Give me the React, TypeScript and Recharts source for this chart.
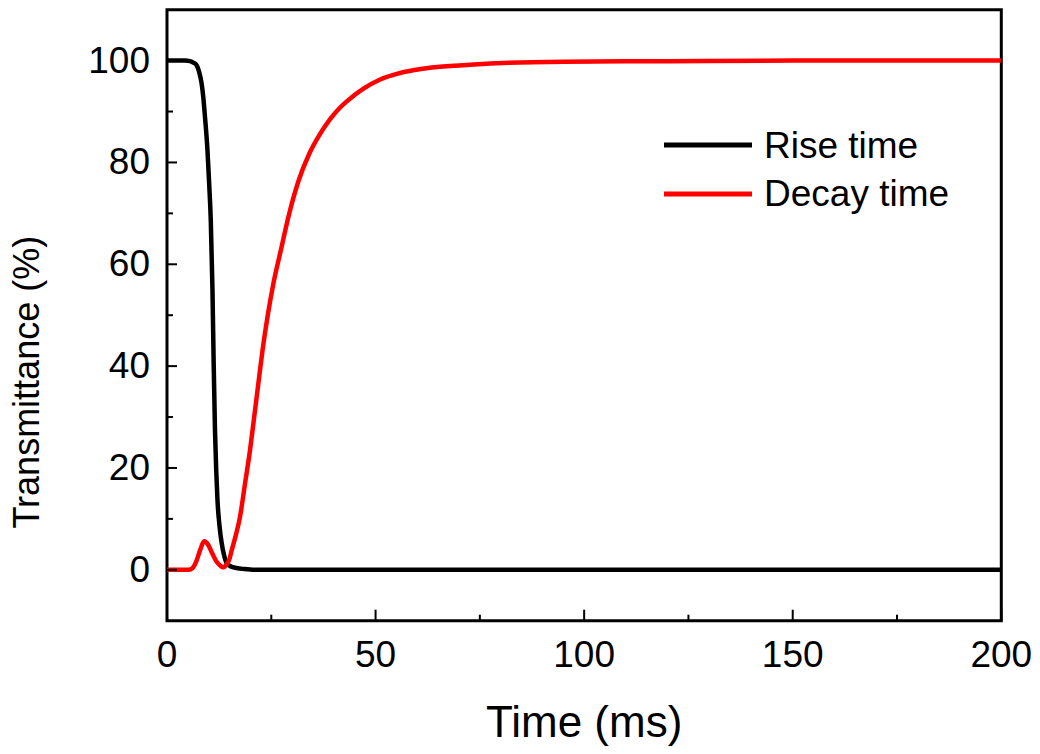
import React from 'react';
import { LineChart, Line, XAxis, YAxis, ReferenceArea, Label } from 'recharts';

// Rise time trace (black): time in ms, transmittance in %
const riseTime = [0, 2, 4.3, 5.5, 6.3, 7.1, 7.7, 8.3, 8.7, 9.1, 9.7, 10.1, 10.5, 10.9, 11.2, 11.5, 11.8, 12.1, 12.6, 13.1, 13.7, 14.3, 15.2, 16.7, 18.5, 21, 30, 60, 100, 150, 200];
const riseValues = [100, 100, 100, 99.9, 99.6, 99.1, 97.8, 95.5, 92.8, 89, 82.4, 76, 68.5, 55, 40, 27.5, 19.5, 13.7, 8.5, 5.3, 2.8, 1.3, 0.7, 0.35, 0.15, 0, 0, 0, 0, 0, 0];

// Decay time trace (red)
const decayTime = [0, 3, 5.2, 6.1, 7, 8, 8.9, 9.8, 10.8, 11.8, 12.8, 13.5, 14.2, 15, 15.5, 16.5, 17.5, 18.7, 19.9, 20.9, 21.9, 22.9, 24.1, 25.5, 27.3, 29.1, 31.5, 34.1, 36.7, 39.1, 41.5, 43.1, 47.1, 51.1, 55.1, 59, 63, 71, 79, 95, 120, 150, 200];
const decayValues = [0, 0, 0, 0.3, 1.6, 4, 5.6, 5.0, 3.3, 1.7, 0.8, 0.5, 0.9, 2.2, 3.8, 6.8, 10.4, 16.9, 23.5, 30, 36.6, 43.1, 49.7, 56.2, 62.8, 69.3, 76.3, 81.7, 85.6, 88.5, 90.8, 92.0, 94.5, 96.3, 97.4, 98.1, 98.6, 99.1, 99.5, 99.8, 99.9, 100, 100];

const xTicks = [0, 25, 50, 75, 100, 125, 150, 175, 200];
const yTicks = [0, 10, 20, 30, 40, 50, 60, 70, 80, 90, 100];

const seriesNames = ['Rise time', 'Decay time'];
const seriesColors = ['#000000', '#ff0000'];

const FONT = '"Liberation Sans", Arial, sans-serif';

const riseData = riseTime.map((t, i) => ({ t, v: riseValues[i] }));
const decayData = decayTime.map((t, i) => ({ t, v: decayValues[i] }));

const XTick = (props: any) => {
  const { x, y, payload } = props;
  const major = payload.value % 50 === 0;
  return (
    <g>
      <line x1={x} x2={x} y1={y} y2={y - (major ? 11 : 6)} stroke="#000" strokeWidth={2} />
      {major && (
        <text x={x} y={y + 46} textAnchor="middle" fontSize={37} fontFamily={FONT} fill="#000">
          {payload.value}
        </text>
      )}
    </g>
  );
};

const YTick = (props: any) => {
  const { x, y, payload } = props;
  const major = payload.value % 20 === 0;
  return (
    <g>
      <line x1={x} x2={x + (major ? 10 : 6)} y1={y} y2={y} stroke="#000" strokeWidth={2} />
      {major && (
        <text x={x - 17} y={y + 12} textAnchor="end" fontSize={37} fontFamily={FONT} fill="#000">
          {payload.value}
        </text>
      )}
    </g>
  );
};

// legend drawn as an overlay so it doesn't eat into the plot area
const ChartLegend = () => (
  <svg width={330} height={100} style={{ position: 'absolute', left: 660, top: 120 }}>
    {seriesNames.map((name, i) => (
      <g key={name}>
        <line x1={4} x2={92} y1={25 + i * 49} y2={25 + i * 49} stroke={seriesColors[i]} strokeWidth={5} />
        <text x={104} y={38 + i * 48} fontSize={37} fontFamily={FONT} fill="#000">
          {name}
        </text>
      </g>
    ))}
  </svg>
);

export default function App() {
  return (
    <div style={{ position: 'absolute', left: 0, top: 0, width: 1040, height: 754, background: '#fff' }}>
      <LineChart width={1040} height={754} margin={{ top: 9.7, right: 38.7, left: 0, bottom: 0 }}>
        <XAxis
          dataKey="t"
          type="number"
          domain={[0, 200]}
          ticks={xTicks}
          interval={0}
          height={133.3}
          tickSize={0}
          tickMargin={0}
          tickLine={false}
          axisLine={false}
          tick={<XTick />}
          allowDataOverflow
        >
          <Label
            content={(p: any) => {
              const vb = p.viewBox;
              return (
                <text x={vb.x + vb.width / 2} y={vb.y + 116} textAnchor="middle" fontSize={44} fontFamily={FONT} fill="#000">
                  Time (ms)
                </text>
              );
            }}
          />
        </XAxis>
        <YAxis
          type="number"
          domain={[-10, 110]}
          ticks={yTicks}
          interval={0}
          width={167}
          tickSize={0}
          tickMargin={0}
          tickLine={false}
          axisLine={false}
          tick={<YTick />}
          allowDataOverflow
        >
          <Label
            content={(p: any) => {
              const vb = p.viewBox;
              const cx = vb.x + 39;
              const cy = vb.y + vb.height / 2 + 67;
              return (
                <text
                  x={cx}
                  y={cy}
                  transform={`rotate(-90 ${cx} ${cy})`}
                  textAnchor="middle"
                  fontSize={36}
                  fontFamily={FONT}
                  fill="#000"
                >
                  Transmittance (%)
                </text>
              );
            }}
          />
        </YAxis>
        <Line
          data={riseData}
          dataKey="v"
          name={seriesNames[0]}
          type="monotone"
          stroke={seriesColors[0]}
          strokeWidth={4.5}
          dot={false}
          isAnimationActive={false}
        />
        <Line
          data={decayData}
          dataKey="v"
          name={seriesNames[1]}
          type="monotone"
          stroke={seriesColors[1]}
          strokeWidth={4.5}
          dot={false}
          isAnimationActive={false}
        />
        <ReferenceArea x1={0} x2={200} y1={-10} y2={110} fill="none" stroke="#000" strokeWidth={3} />
      </LineChart>
      <ChartLegend />
    </div>
  );
}
